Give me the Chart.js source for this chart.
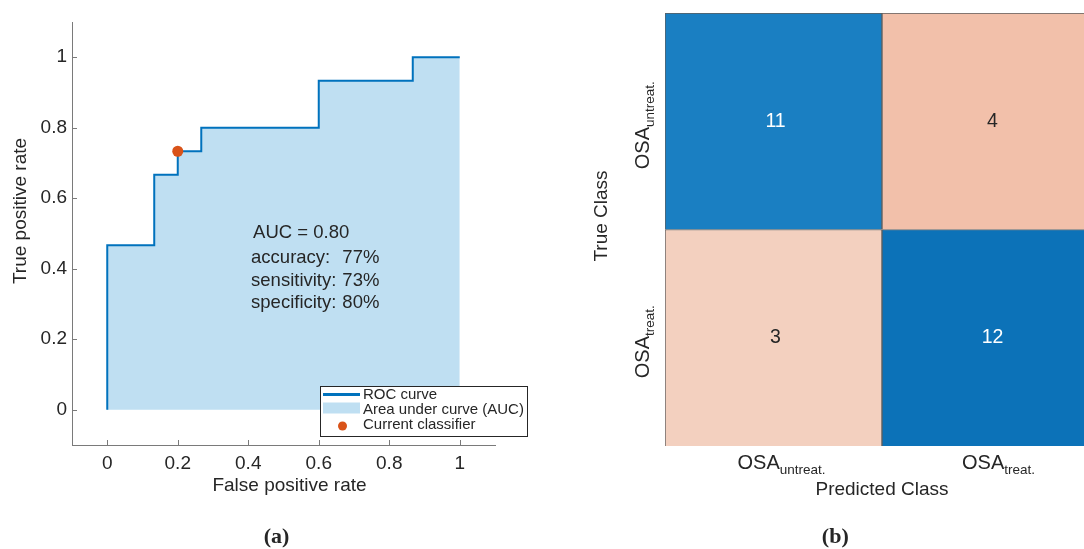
<!DOCTYPE html>
<html><head><meta charset="utf-8">
<script src="https://cdn.jsdelivr.net/npm/chart.js@4.4.1/dist/chart.umd.min.js"></script>
<style>
html,body{margin:0;padding:0;background:#fff;overflow:hidden;width:1084px;height:549px;position:relative}
#wa{position:absolute;left:0;top:0;width:540px;height:549px}
#wb{position:absolute;left:540px;top:0;width:570px;height:549px}
</style></head><body>
<div id="wa"><canvas id="roc" width="540" height="549"></canvas></div>
<div id="wb"><canvas id="cm" width="570" height="549"></canvas></div>
<script>
// ---------- ROC data ----------
const rocFPR = [0, 0, 0.1333, 0.1333, 0.2, 0.2, 0.2667, 0.2667, 0.6, 0.6, 0.8667, 0.8667, 1];
const rocTPR = [0, 0.4667, 0.4667, 0.6667, 0.6667, 0.7333, 0.7333, 0.8, 0.8, 0.9333, 0.9333, 1, 1];
const classifierFPR = [0.2];
const classifierTPR = [0.7333];
const axisTicks = [0, 0.2, 0.4, 0.6, 0.8, 1];
const axisTickLabels = ['0', '0.2', '0.4', '0.6', '0.8', '1'];
const aucText = 'AUC = 0.80';
const statNames = ['accuracy:', 'sensitivity:', 'specificity:'];
const statValues = ['77%', '73%', '80%'];
const legendLabels = ['ROC curve', 'Area under curve (AUC)', 'Current classifier'];
const rocXTitle = 'False positive rate';
const rocYTitle = 'True positive rate';

// ---------- Confusion matrix data ----------
const classPrefix = 'OSA';
const classNames = ['untreat.', 'treat.'];
const confusionCounts = [[11, 4], [3, 12]]; // rows: true class, cols: predicted class
const cmXTitle = 'Predicted Class';
const cmYTitle = 'True Class';
const captions = ['(a)', '(b)'];

// ---------- styles ----------
const C_LINE = '#0072BD', C_FILL = '#BFDFF2', C_DOT = '#D95319', C_TEXT = '#262626', C_AXIS = '#7a7a7a';
const cellColors = [['#1A7FC2', '#F2C0AA'], ['#F3D0BF', '#0C72B8']];
const cellTextColors = [['#ffffff', C_TEXT], [C_TEXT, '#ffffff']];
const FONT = 'Liberation Sans, Arial, sans-serif';

const toPts = (xs, ys) => xs.map((x, i) => ({x: x, y: ys[i]}));

const rocPlugin = {
  id: 'rocExtras',
  afterDraw(chart) {
    const ctx = chart.ctx, xs = chart.scales.x, ys = chart.scales.y, a = chart.chartArea;
    ctx.save();
    // inward ticks
    ctx.strokeStyle = C_AXIS; ctx.lineWidth = 1;
    axisTicks.forEach(v => {
      const px = Math.round(xs.getPixelForValue(v)) + 0.5;
      ctx.beginPath(); ctx.moveTo(px, a.bottom); ctx.lineTo(px, a.bottom - 5); ctx.stroke();
      const py = Math.round(ys.getPixelForValue(v)) + 0.5;
      ctx.beginPath(); ctx.moveTo(a.left, py); ctx.lineTo(a.left + 5, py); ctx.stroke();
    });
    // stats text
    ctx.fillStyle = C_TEXT; ctx.font = '18.5px ' + FONT; ctx.textBaseline = 'middle'; ctx.textAlign = 'left';
    const tx = xs.getPixelForValue(0.408), tv = xs.getPixelForValue(0.667);
    ctx.fillText(aucText, tx + 2, ys.getPixelForValue(0.503));
    const statY = [0.432, 0.366, 0.302];
    statNames.forEach((n, i) => {
      const py = ys.getPixelForValue(statY[i]);
      ctx.fillText(n, tx, py);
      ctx.fillText(statValues[i], tv, py);
    });
    // legend
    const lx = 320.5, ly = 386.5, lw = 207, lh = 50;
    ctx.fillStyle = '#fff'; ctx.fillRect(lx, ly, lw, lh);
    ctx.strokeStyle = C_TEXT; ctx.lineWidth = 1; ctx.strokeRect(lx, ly, lw, lh);
    ctx.strokeStyle = C_LINE; ctx.lineWidth = 3;
    ctx.beginPath(); ctx.moveTo(323, 394.5); ctx.lineTo(360, 394.5); ctx.stroke();
    ctx.fillStyle = C_FILL; ctx.fillRect(323, 402.5, 37, 11);
    ctx.fillStyle = C_DOT; ctx.beginPath(); ctx.arc(342.5, 426, 4.5, 0, Math.PI * 2); ctx.fill();
    ctx.fillStyle = C_TEXT; ctx.font = '15px ' + FONT;
    [395, 410, 425].forEach((y, i) => ctx.fillText(legendLabels[i], 363, y));
    // axis titles
    ctx.font = '19px ' + FONT; ctx.textAlign = 'center';
    ctx.fillText(rocXTitle, (xs.getPixelForValue(0) + xs.getPixelForValue(1)) / 2 + 6, 486);
    ctx.save(); ctx.translate(21, 211); ctx.rotate(-Math.PI / 2); ctx.fillText(rocYTitle, 0, 0); ctx.restore();
    // caption
    ctx.font = 'bold 22px Liberation Serif, serif';
    ctx.fillText(captions[0], 276.5, 537);
    ctx.restore();
  }
};

new Chart(document.getElementById('roc'), {
  type: 'scatter',
  data: {
    datasets: [
      {label: legendLabels[1], data: toPts(rocFPR, rocTPR), showLine: true, fill: 'origin',
       backgroundColor: C_FILL, borderWidth: 0, borderColor: 'rgba(0,0,0,0)', pointRadius: 0, order: 3},
      {label: legendLabels[0], data: toPts(rocFPR, rocTPR), showLine: true, fill: false,
       borderColor: C_LINE, borderWidth: 2, pointRadius: 0, order: 2},
      {label: legendLabels[2], data: toPts(classifierFPR, classifierTPR), showLine: false,
       backgroundColor: C_DOT, borderWidth: 0, pointRadius: 5.5, order: 1}
    ]
  },
  options: {
    responsive: false, animation: false,
    layout: {padding: {top: 22, right: 45, left: 0, bottom: 0}},
    plugins: {legend: {display: false}, tooltip: {enabled: false}},
    scales: {
      x: {type: 'linear', min: -0.1, max: 1.1,
          afterBuildTicks: s => { s.ticks = axisTicks.map(v => ({value: v})); },
          ticks: {callback: v => axisTickLabels[axisTicks.indexOf(v)], color: C_TEXT, font: {family: FONT, size: 19},
                  padding: 7, maxRotation: 0, autoSkip: false},
          grid: {drawOnChartArea: false, drawTicks: false},
          border: {color: C_AXIS, width: 1},
          afterFit: s => { s.height = 549 - 445; }},
      y: {type: 'linear', min: -0.1, max: 1.1,
          afterBuildTicks: s => { s.ticks = axisTicks.map(v => ({value: v})); },
          ticks: {callback: v => axisTickLabels[axisTicks.indexOf(v)], color: C_TEXT, font: {family: FONT, size: 19},
                  padding: 5, autoSkip: false},
          grid: {drawOnChartArea: false, drawTicks: false},
          border: {color: C_AXIS, width: 1},
          afterFit: s => { s.width = 72; }}
    }
  },
  plugins: [rocPlugin]
});

// ---------- confusion matrix ----------
function drawSub(ctx, cx, cy, rot, sub) {
  ctx.save();
  ctx.translate(cx, cy); ctx.rotate(rot);
  ctx.font = '20px ' + FONT; const w1 = ctx.measureText(classPrefix).width;
  ctx.font = '13.5px ' + FONT; const w2 = ctx.measureText(sub).width;
  const start = -(w1 + w2) / 2;
  ctx.fillStyle = C_TEXT; ctx.textBaseline = 'alphabetic'; ctx.textAlign = 'left';
  ctx.font = '20px ' + FONT; ctx.fillText(classPrefix, start, 0);
  ctx.font = '13.5px ' + FONT; ctx.fillText(sub, start + w1, 5);
  ctx.restore();
}

const rowOrder = [1, 0]; // bottom row first (stack order)
const cmPlugin = {
  id: 'cmExtras',
  afterDraw(chart) {
    const ctx = chart.ctx;
    ctx.save();
    ctx.font = '19.5px ' + FONT; ctx.textAlign = 'center'; ctx.textBaseline = 'middle';
    chart.data.datasets.forEach((ds, d) => {
      const r = rowOrder[d];
      chart.getDatasetMeta(d).data.forEach((el, c) => {
        ctx.fillStyle = cellTextColors[r][c];
        ctx.fillText(String(confusionCounts[r][c]), el.x + 2, (el.y + el.base) / 2);
      });
    });
    const xs = chart.scales.x;
    classNames.forEach((n, i) => {
      drawSub(ctx, xs.getPixelForValue(i) + 8, 469, 0, n);
    });
    chart.data.datasets.forEach((ds, d) => {
      const r = rowOrder[d];
      const el = chart.getDatasetMeta(d).data[0];
      drawSub(ctx, 108.7, (el.y + el.base) / 2 + 4, -Math.PI / 2, classNames[r]);
    });
    ctx.fillStyle = C_TEXT; ctx.font = '19px ' + FONT; ctx.textAlign = 'center'; ctx.textBaseline = 'middle';
    ctx.fillText(cmXTitle, (chart.chartArea.left + chart.chartArea.right) / 2, 489.5);
    ctx.save(); ctx.translate(61.7, 216); ctx.rotate(-Math.PI / 2); ctx.fillText(cmYTitle, 0, 0); ctx.restore();
    ctx.font = 'bold 22px Liberation Serif, serif';
    ctx.fillText(captions[1], 295.3, 537);
    ctx.restore();
  }
};

new Chart(document.getElementById('cm'), {
  type: 'bar',
  data: {
    labels: classNames,
    datasets: rowOrder.map(r => ({
      label: classNames[r],
      data: confusionCounts[r].map(() => 1),
      backgroundColor: cellColors[r],
      borderColor: '#5e5e5e', borderWidth: 1,
      barPercentage: 1, categoryPercentage: 1
    }))
  },
  options: {
    responsive: false, animation: false,
    layout: {padding: {top: 13, right: 11, left: 0, bottom: 0}},
    plugins: {legend: {display: false}, tooltip: {enabled: false}},
    scales: {
      x: {stacked: true, ticks: {display: false}, grid: {display: false}, border: {display: false},
          afterFit: s => { s.height = 549 - 446; }},
      y: {stacked: true, min: 0, max: 2, ticks: {display: false}, grid: {display: false}, border: {display: false},
          afterFit: s => { s.width = 125; }}
    }
  },
  plugins: [cmPlugin]
});
</script>
</body></html>
